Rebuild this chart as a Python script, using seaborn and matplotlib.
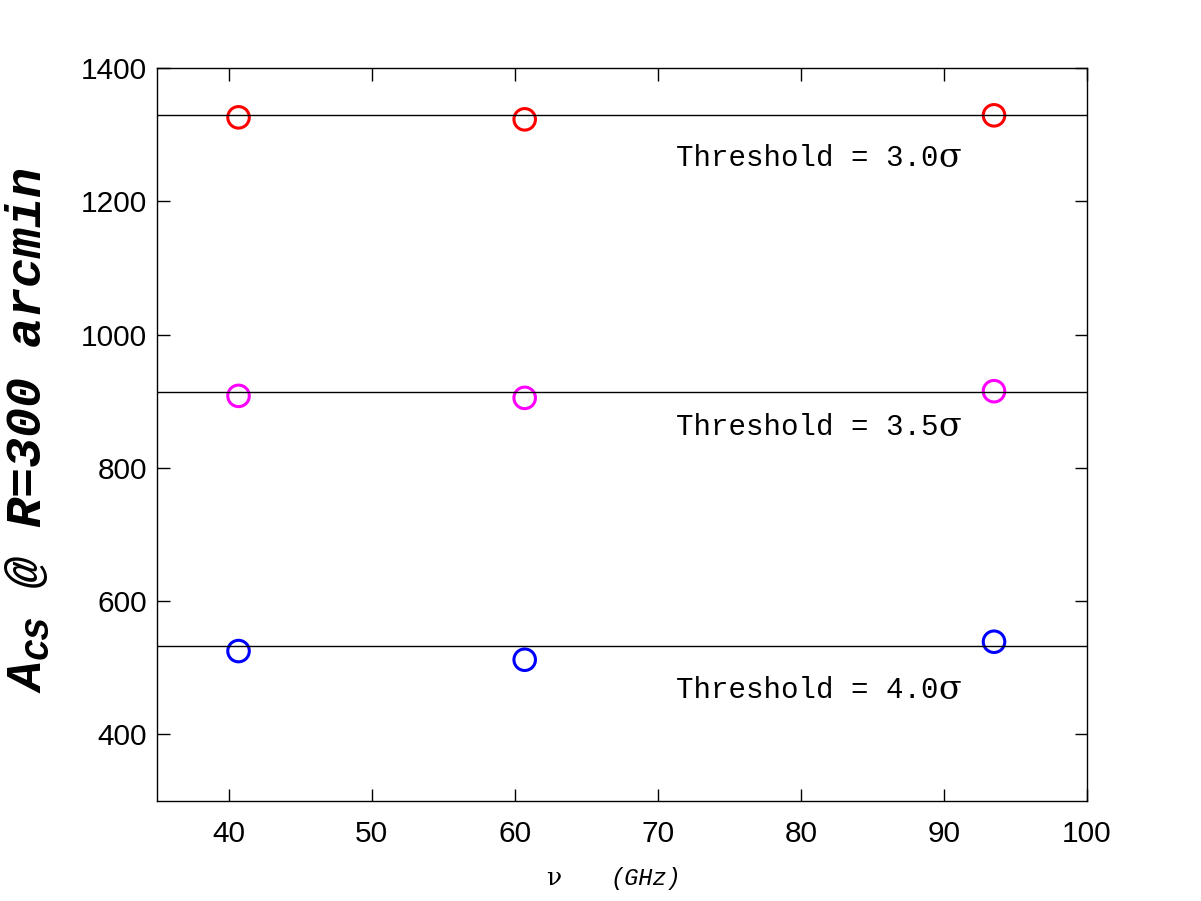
import matplotlib
matplotlib.use("Agg")
import matplotlib.pyplot as plt
import seaborn as sns

# frecuencias (GHz) de los tres canales
nu = [40.7, 60.7, 93.5]

# amplitud por umbral
a_30 = [1326, 1323, 1329]
a_35 = [908, 905, 915]
a_40 = [525, 512, 539]

# nivel medio (lineas horizontales)
niveles = [1330, 914, 533]
etiquetas = ["Threshold = 3.0", "Threshold = 3.5", "Threshold = 4.0"]
colores = ["#ff0000", "#ff00ff", "#0000ff"]
y_texto = [1265, 861, 467]

sns.set_style("ticks")
plt.rcParams["font.family"] = ["Liberation Sans", "DejaVu Sans"]
plt.rcParams["mathtext.fontset"] = "custom"
plt.rcParams["mathtext.it"] = "Liberation Mono:italic:bold"
plt.rcParams["mathtext.rm"] = "Liberation Mono:bold"
plt.rcParams["mathtext.bf"] = "Liberation Mono:italic:bold"
for k in ["text.color", "axes.labelcolor", "xtick.color", "ytick.color",
          "axes.edgecolor"]:
    plt.rcParams[k] = "black"

fig = plt.figure(figsize=(12.01, 9.01), dpi=100)
ax = fig.add_axes([0.1307, 0.111, 0.7744, 0.8135])

for serie, col in zip([a_30, a_35, a_40], colores):
    sns.scatterplot(x=nu, y=serie, ax=ax, marker="o", s=240,
                    facecolors="none", edgecolor=col, linewidth=2.2)
    ax.collections[-1].set_facecolor("none")
    ax.collections[-1].set_edgecolor(col)

for nivel in niveles:
    ax.axhline(nivel, color="black", linewidth=1)

for yt, txt in zip(y_texto, etiquetas):
    t = ax.text(71.3, yt, txt, fontsize=21, va="center", ha="left",
                family="Liberation Mono")
    ax.annotate("σ", xy=(1, 0.5), xycoords=t, va="center", ha="left",
                fontsize=24, family="DejaVu Serif")

ax.set_xlim(35, 100)
ax.set_ylim(300, 1400)
ax.set_xticks(range(40, 101, 10))
ax.set_yticks(range(400, 1401, 200))
ax.tick_params(direction="in", length=9, width=1, top=True, right=True,
               bottom=True, left=True, labelsize=21.5)
ax.tick_params(axis="x", pad=14)
ax.tick_params(axis="y", pad=7)
for s in ax.spines.values():
    s.set_linewidth(1)
    s.set_color("black")

ax.text(0.427, -0.106, "ν", transform=ax.transAxes, fontsize=18,
        family="DejaVu Serif", ha="center", va="center")
ax.text(0.526, -0.106, "(GHz)", transform=ax.transAxes, fontsize=17,
        style="italic", family="Liberation Mono", ha="center", va="center")
ax.set_ylabel("$A_{CS}$ @ R=300 arcmin", fontsize=36, style="italic",
              weight="bold", family="Liberation Mono")
ax.yaxis.set_label_coords(-0.113, 0.506)

fig.savefig("out.png", dpi=100)
